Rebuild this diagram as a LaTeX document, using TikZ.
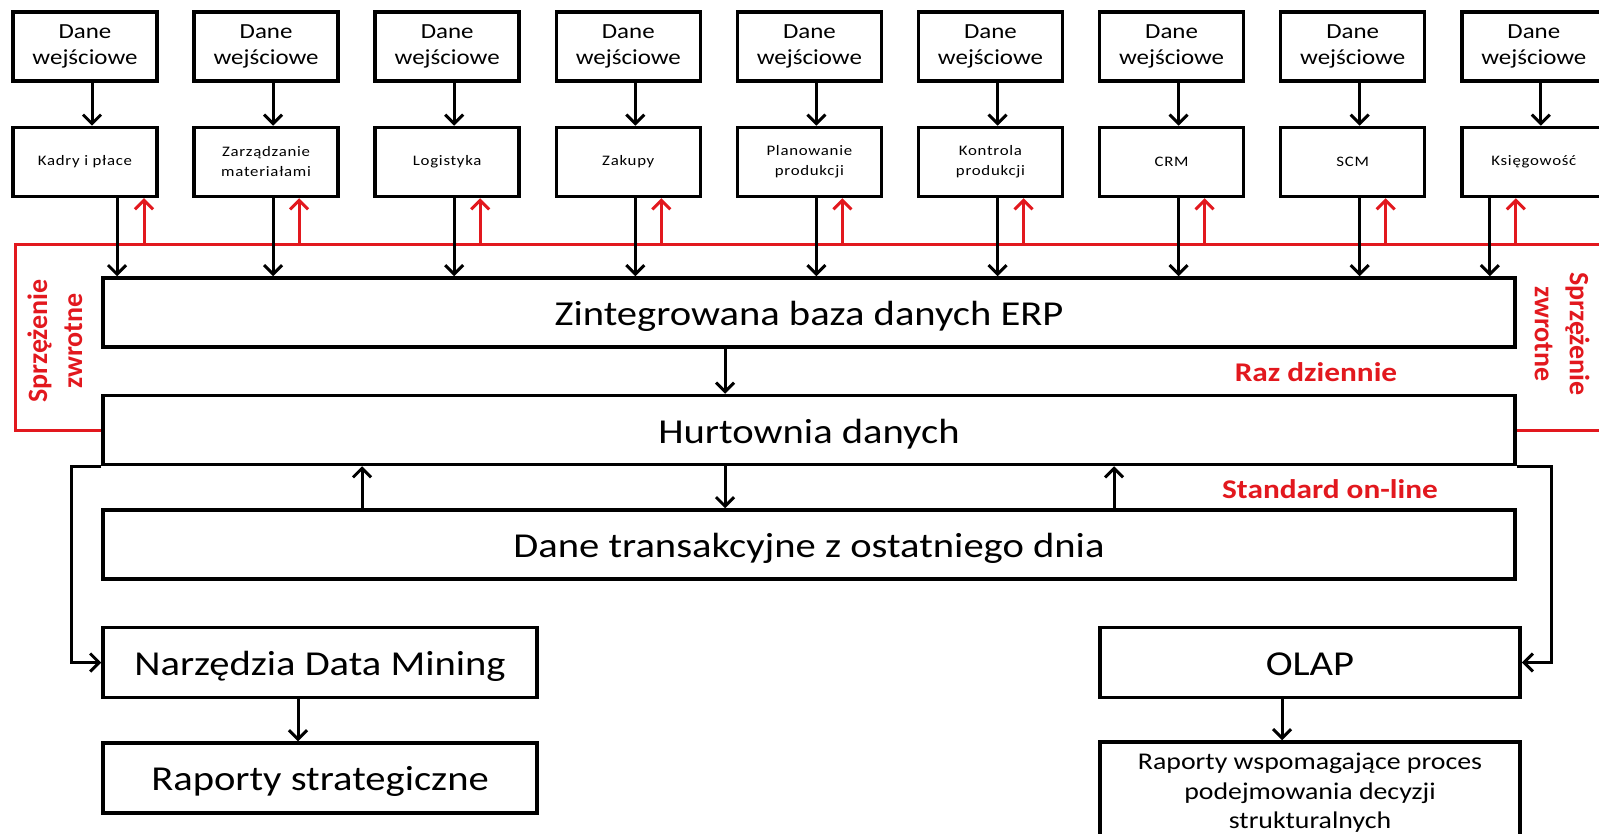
\documentclass[tikz,border=0pt]{standalone}
\usepackage{fontspec}
\setmainfont{Carlito}[FakeStretch=1.16]
\newfontfamily\smallf{Carlito}[FakeStretch=1.16,LetterSpace=5]
\newfontfamily\vertf{Carlito}
\usetikzlibrary{arrows.meta,calc}
\definecolor{redc}{RGB}{226,24,30}
\begin{document}
\begin{tikzpicture}[x=1pt,y=-1pt,
  box/.style={draw, line width=3.5pt, minimum width=144pt, minimum height=69pt, inner sep=0pt, align=center},
  topbox/.style={box, font=\fontsize{21.5}{26.5}\selectfont},
  modbox/.style={box, font=\smallf\fontsize{14.5}{20}\selectfont},
  wide/.style={draw, line width=3.5pt, minimum width=1412pt, minimum height=69pt, inner sep=0pt, text height=33pt, text depth=7pt, font=\fontsize{35}{42}\selectfont},
  lowbox/.style={draw, line width=3.5pt, minimum height=70pt, inner sep=0pt, text height=32pt, text depth=7pt, align=center, font=\fontsize{35}{42}\selectfont},
  arr/.style={line width=3pt, -{Straight Barb[length=9pt,width=18pt]}},
  rarr/.style={arr, draw=redc},
  redline/.style={draw=redc, line width=3pt},
  lbl/.style={text=redc, font=\bfseries\fontsize{27}{32}\selectfont},
  vlbl/.style={text=redc, align=center, font=\vertf\bfseries\fontsize{28}{35}\selectfont}
]
\useasboundingbox (0,0) rectangle (1599,834);
\clip (0,0) rectangle (1599,834);

% top row
\foreach \i in {0,...,8}
  \node[topbox] (top\i) at ({85+181.1*\i},46.5) {Dane\\wejściowe};
\foreach \i/\t in {0/{Kadry i płace}, 1/{Zarządzanie\\materiałami}, 2/{Logistyka}, 3/{Zakupy}, 4/{Planowanie\\produkcji}, 5/{Kontrola\\produkcji}, 6/{CRM}, 7/{SCM}, 8/{Księgowość}}
  \node[modbox] (mod\i) at ({85+181.1*\i},162) {\t};

% main wide boxes
\node[wide] (erp) at (809,312.5) {Zintegrowana baza danych ERP};
\node[wide] (hurt) at (809,430) {Hurtownia danych};
\node[wide] (trans) at (809,544.5) {Dane transakcyjne z ostatniego dnia};

% lower boxes
\node[lowbox, minimum width=434pt] (narz) at (320,662.5) {Narzędzia Data Mining};
\node[lowbox, minimum width=434pt] (rapS) at (320,778) {Raporty strategiczne};
\node[lowbox, minimum width=420pt] (olap) at (1310,662.5) {OLAP};
\node[draw, line width=3.5pt, minimum width=420pt, minimum height=102pt, inner sep=0pt, align=center, font=\fontsize{24}{29.5}\selectfont] (rapW) at (1310,793) {Raporty wspomagające proces\\podejmowania decyzji\\strukturalnych};

% red feedback lines
\coordinate (redL) at (15,245);
\coordinate (redR) at (1610,245);
\coordinate (redR2) at (1610,430);
\draw[redline] (hurt.west) -| (redL) -- (redR);
\draw[redline] (hurt.east) -- (redR2);

% arrows top -> modules
\foreach \i in {0,...,8}
  \draw[arr] ([xshift=7pt]top\i.south) -- ([xshift=7pt]mod\i.north);

% module <-> ERP
\foreach \i/\b/\r in {0/32/59, 1/7/33, 2/7/33, 3/7/33, 4/7/33, 5/7/33, 6/7/33, 7/7/33, 8/-44/-18} {
  \draw[rarr] ([xshift=\r pt]mod\i.south |- redL) -- ([xshift=\r pt]mod\i.south);
  \draw[arr] ([xshift=\b pt]mod\i.south) -- ([xshift=\b pt]mod\i.south |- erp.north);
}

% vertical flow
\draw[arr] ([xshift=-84pt]erp.south) -- ([xshift=-84pt]hurt.north);
\draw[arr] ([xshift=-84pt]hurt.south) -- ([xshift=-84pt]trans.north);
\draw[arr] ([xshift=-447pt]trans.north) -- ([xshift=-447pt]hurt.south);
\draw[arr] ([xshift=305pt]trans.north) -- ([xshift=305pt]hurt.south);

% outer loops
\coordinate (loopL) at (71,0);
\coordinate (loopR) at (1551,0);
\draw[arr] (hurt.south west) -| (loopL |- narz.west) -- (narz.west);
\draw[arr] (hurt.south east) -| (loopR |- olap.east) -- (olap.east);

\draw[arr] ([xshift=-22pt]narz.south) -- ([xshift=-22pt]rapS.north);
\draw[arr] ([xshift=-28pt]olap.south) -- ([xshift=-28pt]rapW.north);

% labels
\node[lbl] (raz) at (1316,372) {Raz dziennie};
\node[lbl] (std) at (1330,489) {Standard on-line};
\node[vlbl, rotate=90] (fbL) at (55,341) {Sprzężenie\\zwrotne};
\node[vlbl, rotate=-90] (fbR) at (1562,334) {Sprzężenie\\zwrotne};
\end{tikzpicture}
\end{document}
